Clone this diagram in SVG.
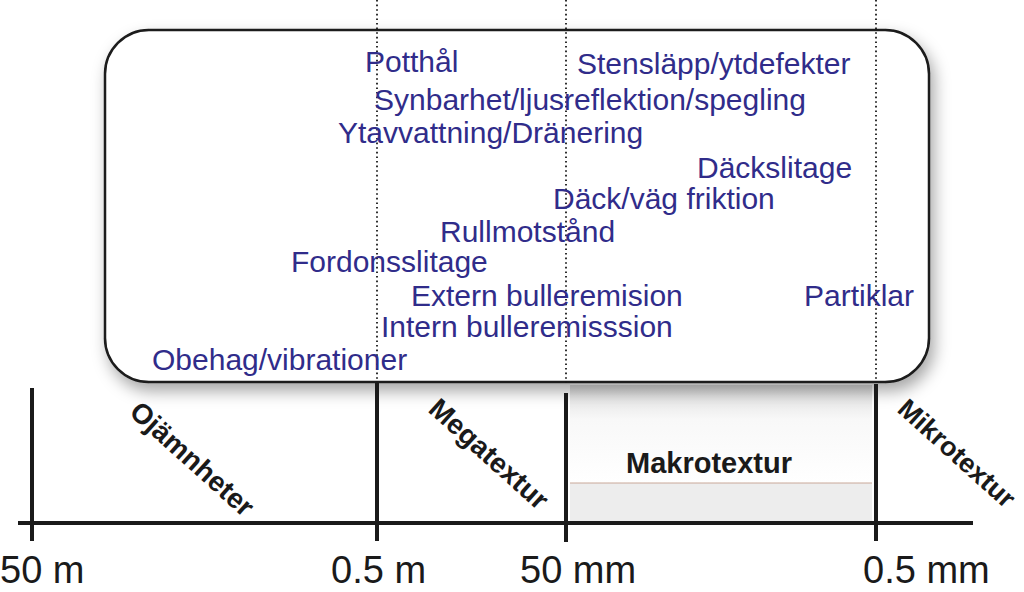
<svg xmlns="http://www.w3.org/2000/svg" width="1024" height="592" viewBox="0 0 1024 592">
<style>
.lbl{font-family:"Liberation Sans",Arial,sans-serif;font-size:30px;fill:#302c8a}
.rot{font-family:"Liberation Sans",Arial,sans-serif;font-size:28px;font-weight:bold;fill:#1a1a1a}
.scale{font-family:"Liberation Sans",Arial,sans-serif;font-size:38px;fill:#1a1a1a}
.tick{stroke:#1a1a1a;stroke-width:4;fill:none}
.dot{stroke:#1a1a1a;stroke-width:1.8;stroke-dasharray:1.6 3;fill:none}
</style>
<defs>
<filter id="sh" x="-10%" y="-10%" width="125%" height="130%">
<feDropShadow dx="4" dy="8" stdDeviation="8" flood-color="#000" flood-opacity="0.35"/>
</filter>
<linearGradient id="mg" x1="0" y1="0" x2="0" y2="1">
<stop offset="0" stop-color="#dcdcdc"/>
<stop offset="0.35" stop-color="#f8f8f8"/>
<stop offset="1" stop-color="#ffffff"/>
</linearGradient>
</defs>
<rect width="1024" height="592" fill="#ffffff"/>
<g id="makro-band">
<rect x="570" y="385" width="302" height="98" fill="url(#mg)"/>
<rect x="570" y="483" width="302" height="38" fill="#ededed"/>
<line x1="570" y1="483" x2="872" y2="483" stroke="#c9a899" stroke-width="1"/>
</g>
<g id="box">
<rect x="105" y="30" width="824" height="352" rx="44" ry="44" fill="#ffffff" stroke="#1a1a1a" stroke-width="2.5" filter="url(#sh)"/>
</g>
<g id="connectors">
<line class="dot" x1="377" y1="0" x2="377" y2="383"/>
<line class="dot" x1="566" y1="0" x2="566" y2="383"/>
<line class="dot" x1="876" y1="0" x2="876" y2="383"/>
<line class="tick" x1="18" y1="523" x2="973" y2="523"/>
<line class="tick" x1="32" y1="388" x2="32" y2="541"/>
<line class="tick" x1="377" y1="383" x2="377" y2="541"/>
<line class="tick" x1="566" y1="393" x2="566" y2="542"/>
<line class="tick" x1="876" y1="384" x2="876" y2="541"/>
</g>
<g id="labels">
<text class="lbl" x="365" y="72">Potthål</text>
<text class="lbl" x="577" y="74">Stensläpp/ytdefekter</text>
<text class="lbl" x="374" y="110">Synbarhet/ljusreflektion/spegling</text>
<text class="lbl" x="338" y="143">Ytavvattning/Dränering</text>
<text class="lbl" x="697" y="178">Däckslitage</text>
<text class="lbl" x="553" y="209">Däck/väg friktion</text>
<text class="lbl" x="440" y="242">Rullmotstånd</text>
<text class="lbl" x="291" y="272">Fordonsslitage</text>
<text class="lbl" x="411" y="306">Extern bulleremision</text>
<text class="lbl" x="804" y="306">Partiklar</text>
<text class="lbl" x="381" y="337">Intern bulleremisssion</text>
<text class="lbl" x="152" y="370">Obehag/vibrationer</text>
</g>
<g id="categories">
<text class="rot" transform="translate(128,414) rotate(42)">Ojämnheter</text>
<text class="rot" transform="translate(427,411) rotate(42)">Megatextur</text>
<text class="rot" transform="translate(896,411) rotate(42)" style="font-size:27px">Mikrotextur</text>
<text class="rot" x="626" y="473" style="font-size:29px">Makrotextur</text>
</g>
<g id="scale">
<text class="scale" x="0" y="583">50 m</text>
<text class="scale" x="331" y="583">0.5 m</text>
<text class="scale" x="520" y="583">50 mm</text>
<text class="scale" x="863" y="583">0.5 mm</text>
</g>
</svg>
